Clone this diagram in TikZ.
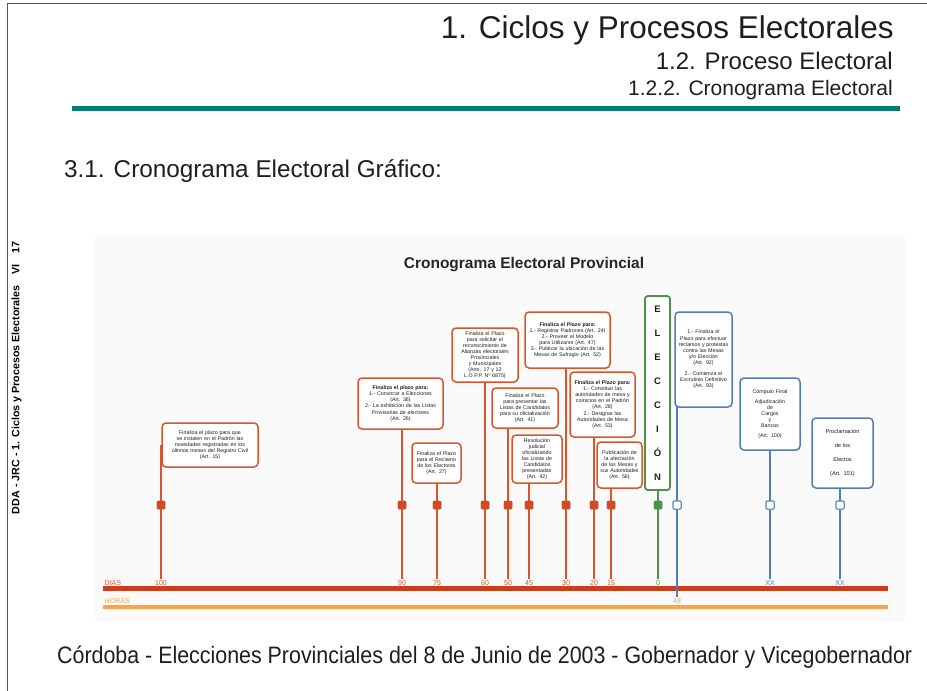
\documentclass[tikz,border=0pt]{standalone}
\usepackage{fontspec}
\setmainfont{Liberation Sans}
\usepackage{graphicx}
\hyphenpenalty=10000\relax
\exhyphenpenalty=10000\relax
\tolerance=9999\relax
\definecolor{oc}{HTML}{D9552C}
\definecolor{ocm}{HTML}{D04A24}
\definecolor{gc}{HTML}{4A944A}
\definecolor{bc}{HTML}{4F80B5}
\definecolor{diasc}{HTML}{CC3D1C}
\definecolor{horasc}{HTML}{F8A54A}
\definecolor{tealc}{HTML}{007C76}
\definecolor{cbg}{HTML}{FAFAFA}
\definecolor{txc}{HTML}{1E1E1E}
\tikzset{
  evbox/.style={draw=oc, line width=1.5pt, rounded corners=4pt, fill=white, align=center,
    inner sep=1pt, text=txc, font=\fontsize{5.3}{6.1}\selectfont},
  blbox/.style={evbox, draw=bc},
  grbox/.style={evbox, draw=gc, line width=1.8pt, rounded corners=3pt},
  mk/.style={fill=ocm, draw=ocm, minimum size=8pt, inner sep=0pt, rounded corners=1pt},
  mkg/.style={mk, fill=gc, draw=gc},
  mkb/.style={mk, fill=white, draw=bc, line width=1pt},
  vl/.style={draw=oc, line width=1.8pt},
  vlg/.style={draw=gc, line width=1.8pt},
  vlb/.style={draw=bc, line width=1.6pt},
  tk/.style={font=\fontsize{7}{7}\selectfont, inner sep=0.5pt, text=oc},
}
\begin{document}
\hyphenpenalty=10000\relax
\exhyphenpenalty=10000\relax
\tolerance=9999\relax
\begin{tikzpicture}[x=1pt,y=-1pt]
\useasboundingbox (0,0) rectangle (927,691);
% page frame
\draw[line width=1.5pt, color=black!65] (7.5,691) -- (7.5,3.5) -- (927,3.5);
% header
\node[anchor=base east, inner sep=0, text=txc] (h1) at (894,38) {\fontsize{31.5}{36}\selectfont 1. Ciclos y Procesos Electorales};
\node[anchor=base east, inner sep=0, text=txc] (h2) at (893,69) {\fontsize{24}{28}\selectfont 1.2. Proceso Electoral};
\node[anchor=base east, inner sep=0, text=txc] (h3) at (893,95) {\fontsize{21}{24}\selectfont 1.2.2. Cronograma Electoral};
\draw[line width=5pt, color=tealc] (72,108) -- (900,108);
\node[anchor=base west, inner sep=0, text=txc] (sec) at (64,177) {\fontsize{24.3}{28}\selectfont 3.1. Cronograma Electoral Gráfico:};
% side text
\node[rotate=90, inner sep=0, text=black] (side) at (16.5,378) {\resizebox{272pt}{!}{\bfseries\fontsize{8}{9}\selectfont DDA - JRC - 1. Ciclos y Procesos Electorales\quad VI\quad 17}};
% chart background
\fill[cbg] (95,235) rectangle (905,622);
\node[inner sep=0, anchor=base, text=black!85] (ctitle) at (524,268) {\bfseries\fontsize{15.5}{17}\selectfont Cronograma Electoral Provincial};

% axis labels
\node[tk, anchor=base west] (dias) at (104,585) {DIAS};
\node[tk, anchor=base west, text=horasc] (horas) at (104,603) {HORAS};
\node[tk, anchor=base] (l100) at (161,585) {100};
\node[tk, anchor=base] (l90) at (402,585) {90};
\node[tk, anchor=base] (l75) at (437,585) {75};
\node[tk, anchor=base] (l60) at (485,585) {60};
\node[tk, anchor=base] (l50) at (508,585) {50};
\node[tk, anchor=base] (l45) at (529,585) {45};
\node[tk, anchor=base] (l30) at (566,585) {30};
\node[tk, anchor=base] (l20) at (594,585) {20};
\node[tk, anchor=base] (l15) at (611,585) {15};
\node[tk, anchor=base, text=gc] (l0) at (658,585) {0};
\node[tk, anchor=base, text=bc] (lxa) at (770,585) {XX};
\node[tk, anchor=base, text=bc] (lxb) at (840,585) {XX};
\node[tk, anchor=base, text=horasc] (l48) at (677,603) {48};

% markers
\node[mk] (m100) at (161,505) {};
\node[mk] (m90) at (402,505) {};
\node[mk] (m75) at (437,505) {};
\node[mk] (m60) at (485,505) {};
\node[mk] (m50) at (508,505) {};
\node[mk] (m45) at (529,505) {};
\node[mk] (m30) at (566,505) {};
\node[mk] (m20) at (594,505) {};
\node[mk] (m15) at (611,505) {};
\node[mkg] (m0) at (658,505) {};
\node[mkb] (m48) at (677,505) {};
\node[mkb] (mxa) at (770,505) {};
\node[mkb] (mxb) at (840,505) {};

% box centres
\path
 (210,445) coordinate (c100)
 (400.5,403.5) coordinate (c90)
 (436.5,463) coordinate (c75)
 (485,355) coordinate (c60)
 (525,408) coordinate (c50)
 (537,459) coordinate (c45)
 (567.5,340) coordinate (c30)
 (602.5,404.5) coordinate (c20)
 (619.5,465) coordinate (c15)
 (657.5,393) coordinate (cE)
 (703.5,359.5) coordinate (c48)
 (770,414) coordinate (cxa)
 (842.5,453) coordinate (cxb);

\draw[vl] (m100 |- c100) -- (m100.north) (m100.south) -- (l100.north);
\draw[vl] (m90 |- c90) -- (m90.north) (m90.south) -- (l90.north);
\draw[vl] (m75 |- c75) -- (m75.north) (m75.south) -- (l75.north);
\draw[vl] (m60 |- c60) -- (m60.north) (m60.south) -- (l60.north);
\draw[vl] (m50 |- c50) -- (m50.north) (m50.south) -- (l50.north);
\draw[vl] (m45 |- c45) -- (m45.north) (m45.south) -- (l45.north);
\draw[vl] (m30 |- c30) -- (m30.north) (m30.south) -- (l30.north);
\draw[vl] (m20 |- c20) -- (m20.north) (m20.south) -- (l20.north);
\draw[vl] (m15 |- c15) -- (m15.north) (m15.south) -- (l15.north);
\draw[vlg] (m0 |- cE) -- (m0.north) (m0.south) -- (l0.north);
\draw[vlb] (mxa |- cxa) -- (mxa.north) (mxa.south) -- (lxa.north);
\draw[vlb] (mxb |- cxb) -- (mxb.north) (mxb.south) -- (lxb.north);
\draw[vlb] (m48 |- c48) -- (m48.north);

% redraw markers on top
\node[mk] at (m100) {};
\node[mk] at (m90) {};
\node[mk] at (m75) {};
\node[mk] at (m60) {};
\node[mk] at (m50) {};
\node[mk] at (m45) {};
\node[mk] at (m30) {};
\node[mk] at (m20) {};
\node[mk] at (m15) {};
\node[mkg] at (m0) {};
\node[mkb] at (m48) {};
\node[mkb] at (mxa) {};
\node[mkb] at (mxb) {};

% axis lines
\draw[line width=5pt, color=diasc] (103,588) coordinate (d0) -- (888,588) coordinate (d1);
\draw[line width=4pt, color=horasc] (103,607) coordinate (o0) -- (888,607) coordinate (o1);
\draw[vlb] (m48.south) -- (l48.north);

% event boxes
\node[evbox, minimum width=96pt, minimum height=44pt, text width=88pt] (b100) at (c100)
 {Finaliza el plazo para que se instalen en el Padrón las novedades registradas en los últimos meses del Registro Civil\\(Art. 15)};
\node[evbox, minimum width=85pt, minimum height=51pt, text width=79pt] (b90) at (c90)
 {\textbf{Finaliza el plazo para:}\\1.- Convocar a Elecciones\\(Art. 36)\\2.- La exhibición de las Listas Provisorias de electores\\(Art. 26)};
\node[evbox, minimum width=49pt, minimum height=40pt, text width=43pt] (b75) at (c75)
 {Finaliza el Plazo para el Reclamo de los Electores\\(Art. 27)};
\node[evbox, minimum width=66pt, minimum height=54pt, text width=60pt] (b60) at (c60)
 {Finaliza el Plazo para solicitar el reconocimiento de Alianzas electorales Provinciales y Municipales\\(Arts. 17 y 12 L.O.P.P. Nº 6875)};
\node[evbox, minimum width=66pt, minimum height=40pt, text width=60pt] (b50) at (c50)
 {Finaliza el Plazo para presentar las Listas de Candidatos para su oficialización\\(Art. 41)};
\node[evbox, minimum width=50pt, minimum height=48pt, text width=44pt] (b45) at (c45)
 {Resolución judicial oficializando las Listas de Candidatos presentadas\\(Art. 42)};
\node[evbox, minimum width=85pt, minimum height=56pt, text width=79pt] (b30) at (c30)
 {\textbf{Finaliza el Plazo para:}\\1.- Registrar Padrones (Art. 24)\\2.- Proveer el Modelo para Utilizarse (Art. 47)\\3.- Publicar la ubicación de las Mesas de Sufragio (Art. 52)};
\node[evbox, minimum width=65pt, minimum height=65pt, text width=59pt] (b20) at (c20)
 {\textbf{Finaliza el Plazo para:}\\1.- Constituir las autoridades de mesa y comicios en el Padrón\\(Art. 28)\\2.- Designar las Autoridades de Mesa\\(Art. 53)};
\node[evbox, minimum width=45pt, minimum height=46pt, text width=40pt] (b15) at (c15)
 {Publicación de la afectación de las Mesas y sus Autoridades\\(Art. 56)};
\node[grbox, minimum width=25pt, minimum height=194pt, text width=18pt,
  font=\bfseries\fontsize{9.5}{24}\selectfont] (bE) at (cE)
 {E\\L\\E\\C\\C\\I\\Ó\\N};
\node[blbox, minimum width=57pt, minimum height=95pt, text width=51pt] (b48) at (c48)
 {1.- Finaliza el Plazo para efectuar reclamos y protestas contra las Mesas y/o Elección\\(Art. 92)\\[5pt]2.- Comienza el Escrutinio Definitivo\\(Art. 93)};
\node[blbox, minimum width=60pt, minimum height=72pt, text width=54pt] (bxa) at (cxa)
 {Cómputo Final\\[4pt]Adjudicación\\de\\Cargos\\y\\Bancas\\[4pt](Art. 100)};
\node[blbox, minimum width=61pt, minimum height=70pt, text width=55pt,
  font=\fontsize{5.6}{14}\selectfont] (bxb) at (cxb)
 {Proclamación\\de los\\Electos\\(Art. 101)};

% footer
\node[anchor=base west, inner sep=0, text=txc] (foot) at (57,663)
 {\resizebox{855pt}{!}{\fontsize{22}{26}\selectfont\scalebox{0.9}[1]{Córdoba - Elecciones Provinciales del 8 de Junio de 2003 - Gobernador y Vicegobernador}}};
\end{tikzpicture}
\end{document}
